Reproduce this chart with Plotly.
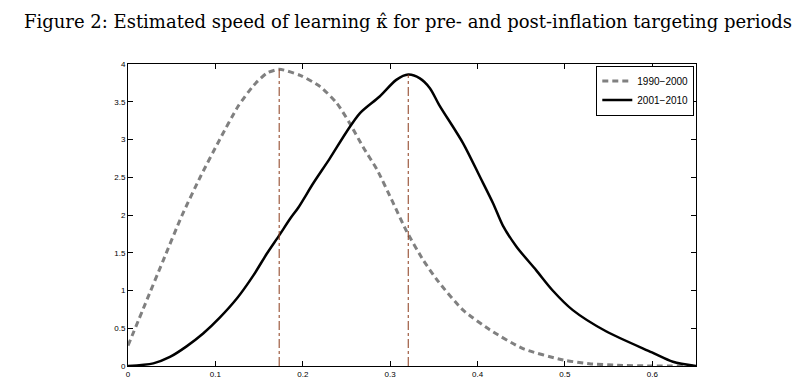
import plotly.graph_objects as go

# 1990-2000 density (dashed grey)
x_pre = [0, 0.02, 0.04, 0.062, 0.083, 0.105, 0.126, 0.144, 0.159, 0.173, 0.197, 0.22,
         0.239, 0.254, 0.269, 0.285, 0.303, 0.319, 0.338, 0.355, 0.3835, 0.414, 0.452,
         0.498, 0.528, 0.56, 0.6, 0.65]
y_pre = [0.27, 0.83, 1.39, 2.0, 2.51, 3.0, 3.44, 3.72, 3.88, 3.93, 3.85, 3.70,
         3.48, 3.21, 2.90, 2.60, 2.17, 1.78, 1.40, 1.12, 0.74, 0.48, 0.23,
         0.08, 0.03, 0.01, 0.0, 0.0]

# 2001-2010 density (solid black)
x_post = [0, 0.029, 0.048, 0.067, 0.086, 0.105, 0.125, 0.1435, 0.159, 0.173, 0.1855,
          0.195, 0.212, 0.231, 0.25, 0.2655, 0.288, 0.307, 0.3207, 0.334, 0.3455, 0.356,
          0.3835, 0.4026, 0.418, 0.429, 0.4446, 0.467, 0.486, 0.509, 0.547, 0.5996,
          0.6236, 0.65]
y_post = [0, 0.035, 0.12, 0.26, 0.43, 0.64, 0.90, 1.2, 1.49, 1.73, 1.95,
          2.10, 2.42, 2.75, 3.10, 3.35, 3.57, 3.79, 3.86, 3.81, 3.68, 3.46,
          2.95, 2.51, 2.15, 1.86, 1.58, 1.27, 1.0, 0.74, 0.46, 0.18,
          0.057, 0.0]

names = ["1990\u22122000", "2001\u22122010"]
x_ticks = [0, 0.1, 0.2, 0.3, 0.4, 0.5, 0.6]
x_tick_labels = ["0", "0.1", "0.2", "0.3", "0.4", "0.5", "0.6"]
y_ticks = [0, 0.5, 1, 1.5, 2, 2.5, 3, 3.5, 4]
y_tick_labels = ["0", "0.5", "1", "1.5", "2", "2.5", "3", "3.5", "4"]

title = "Figure 2: Estimated speed of learning \u03ba\u0302 for pre- and post-inflation targeting periods"

fig = go.Figure()
fig.add_trace(go.Scatter(x=x_pre, y=y_pre, mode="lines", name=names[0],
                         line=dict(color="#808080", width=3, dash="6px,4px", shape="spline", smoothing=0.6)))
fig.add_trace(go.Scatter(x=x_post, y=y_post, mode="lines", name=names[1],
                         line=dict(color="black", width=2.5, shape="spline", smoothing=0.8)))

# vertical dash-dot lines at the modes
for xs, ys in ((x_pre, y_pre), (x_post, y_post)):
    i = ys.index(max(ys))
    fig.add_trace(go.Scatter(x=[xs[i], xs[i]], y=[0, ys[i]], mode="lines", showlegend=False,
                             line=dict(color="#8B3A1A", width=1, dash="dashdot")))

axis_common = dict(showline=True, linecolor="black", linewidth=1, mirror="ticks",
                   ticks="inside", ticklen=5, tickcolor="black", showgrid=False, zeroline=False,
                   tickfont=dict(family="Arial, Liberation Sans", size=8, color="black"))

fig.update_layout(
    width=800, height=390,
    paper_bgcolor="white", plot_bgcolor="white",
    margin=dict(l=120, r=112, t=56, b=32),
    title=dict(text=title, x=0.5, xanchor="center", y=0.964, yanchor="middle",
               font=dict(family="DejaVu Serif, serif", size=18, color="black")),
    xaxis=dict(range=[0, 0.65], tickvals=x_ticks, ticktext=x_tick_labels, **axis_common),
    yaxis=dict(range=[0, 4], tickvals=y_ticks, ticktext=y_tick_labels, **axis_common),
    legend=dict(x=0.997, xanchor="right", y=0.995, yanchor="top",
                bgcolor="white", bordercolor="black", borderwidth=1,
                font=dict(family="Arial, Liberation Sans", size=10, color="black"),
                tracegroupgap=0, itemwidth=30),
    showlegend=True,
)

fig.write_html("out.html")
